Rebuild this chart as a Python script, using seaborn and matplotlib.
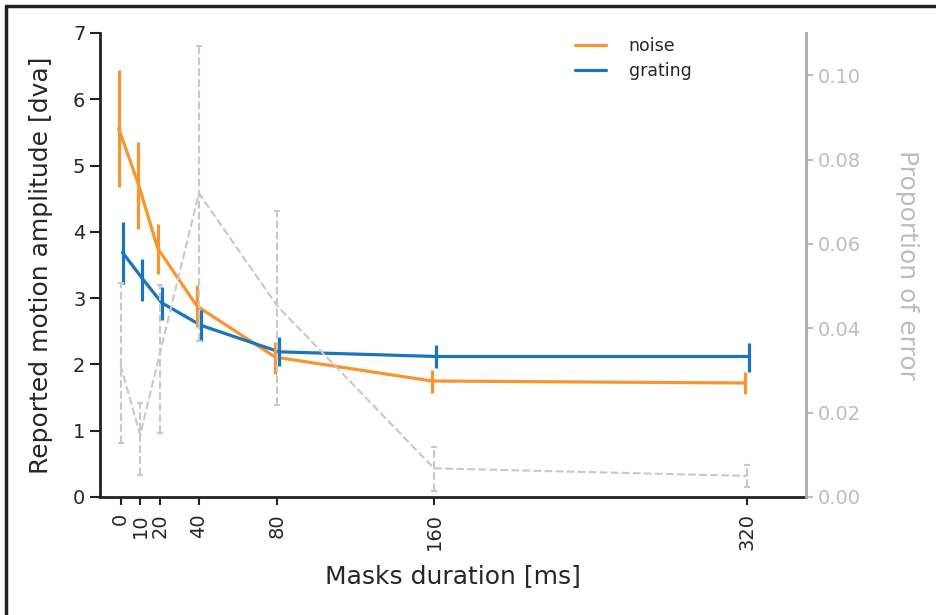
import numpy as np
import pandas as pd
import matplotlib
matplotlib.use("Agg")
import matplotlib.pyplot as plt
import seaborn as sns
from matplotlib.lines import Line2D

# ---- data ----
durations = [0, 10, 20, 40, 80, 160, 320]
noise_mean = [5.56, 4.73, 3.75, 2.88, 2.11, 1.75, 1.72]
noise_lo = [4.68, 4.05, 3.36, 2.56, 1.86, 1.57, 1.55]
noise_hi = [6.44, 5.36, 4.12, 3.20, 2.34, 1.92, 1.88]
grating_mean = [3.69, 3.30, 2.93, 2.59, 2.19, 2.12, 2.12]
grating_lo = [3.22, 2.95, 2.67, 2.36, 1.97, 1.94, 1.89]
grating_hi = [4.15, 3.59, 3.17, 2.82, 2.41, 2.29, 2.33]
error_mean = [0.0313, 0.0147, 0.0339, 0.0720, 0.0453, 0.0068, 0.0050]
error_lo = [0.0127, 0.0052, 0.0152, 0.0370, 0.0218, 0.0014, 0.0024]
error_hi = [0.0507, 0.0224, 0.0503, 0.1070, 0.0679, 0.0119, 0.0076]
xtick_labels = ["0", "10", "20", "40", "80", "160", "320"]

ORANGE = "#f7952f"
BLUE = "#1b75bb"
GRAY = "#c8c8c8"
GRAYTXT = "#bdbdbd"

sns.set_style("ticks")
plt.rcParams["font.family"] = ["DejaVu Sans"]

fig = plt.figure(figsize=(9.37, 6.15), dpi=100)
ax = fig.add_axes([100/937, 1-497/615, (806-100)/937, (497-33)/615])

off = 1.0
df = pd.DataFrame({
    "x": [d - off for d in durations] + [d + off for d in durations],
    "y": noise_mean + grating_mean,
    "cond": ["noise"] * len(durations) + ["grating"] * len(durations),
})
sns.lineplot(data=df, x="x", y="y", hue="cond", palette={"noise": ORANGE, "grating": BLUE},
             linewidth=2.3, ax=ax, legend=False, sort=False)

for xs, m, lo, hi, c in [
    ([d - off for d in durations], noise_mean, noise_lo, noise_hi, ORANGE),
    ([d + off for d in durations], grating_mean, grating_lo, grating_hi, BLUE),
]:
    m = np.array(m); lo = np.array(lo); hi = np.array(hi)
    ax.errorbar(xs, m, yerr=[m - lo, hi - m], fmt="none", ecolor=c, elinewidth=2.3, capsize=0)

ax.set_xlim(-10.5, 350)
ax.set_ylim(0, 7)
ax.set_xticks(durations)
ax.set_xticklabels(xtick_labels, rotation=90)
ax.set_yticks(range(8))
ax.set_xlabel("Masks duration [ms]", fontsize=18, labelpad=10)
ax.set_ylabel("Reported motion amplitude [dva]", fontsize=18, labelpad=14)
ax.tick_params(axis="both", labelsize=14, width=1.5, color="#222222")
ax.tick_params(axis="y", length=7)
ax.tick_params(axis="x", length=5.5, pad=6)
for s in ["left", "bottom"]:
    ax.spines[s].set_linewidth(2)
    ax.spines[s].set_color("#222222")
ax.spines["top"].set_visible(False)
ax.spines["right"].set_visible(False)

leg_handles = [Line2D([], [], color=ORANGE, lw=2.3), Line2D([], [], color=BLUE, lw=2.3)]
ax.legend(leg_handles, ["noise", "grating"], loc="upper center", bbox_to_anchor=(0.755, 1.025),
          frameon=False, fontsize=12.5, handlelength=1.8, handletextpad=1.3, labelspacing=0.4)

ax2 = ax.twinx()
dfe = pd.DataFrame({"x": durations, "y": error_mean})
sns.lineplot(data=dfe, x="x", y="y", color=GRAY, linestyle="--", linewidth=1.5, ax=ax2)
em = np.array(error_mean)
eb = ax2.errorbar(durations, em, yerr=[em - np.array(error_lo), np.array(error_hi) - em], fmt="none",
                  ecolor=GRAY, elinewidth=1.5, capsize=2.5, capthick=1.5)
for lc in eb[2]:
    lc.set_linestyle("--")
ax2.set_ylim(0, 0.11)
ax2.set_yticks([0, 0.02, 0.04, 0.06, 0.08, 0.10])
ax2.set_yticklabels(["0.00", "0.02", "0.04", "0.06", "0.08", "0.10"])
ax2.set_ylabel("Proportion of error", fontsize=18, color=GRAYTXT, rotation=270, labelpad=42)
ax2.set_xlabel("")
ax2.tick_params(axis="y", labelsize=14, colors=GRAYTXT, length=5, width=1.5)
ax2.spines["right"].set_color("#aaaaaa")
ax2.spines["right"].set_linewidth(2)
for s in ["top", "left", "bottom"]:
    ax2.spines[s].set_visible(False)

# figure border (partially cropped frame)
fig.add_artist(Line2D([6/937, 6/937], [0, 1-6/615], transform=fig.transFigure, color="#222222", lw=2.5))
fig.add_artist(Line2D([6/937, 1], [1-6/615, 1-6/615], transform=fig.transFigure, color="#222222", lw=2.5))

fig.savefig("out.png", dpi=100)
